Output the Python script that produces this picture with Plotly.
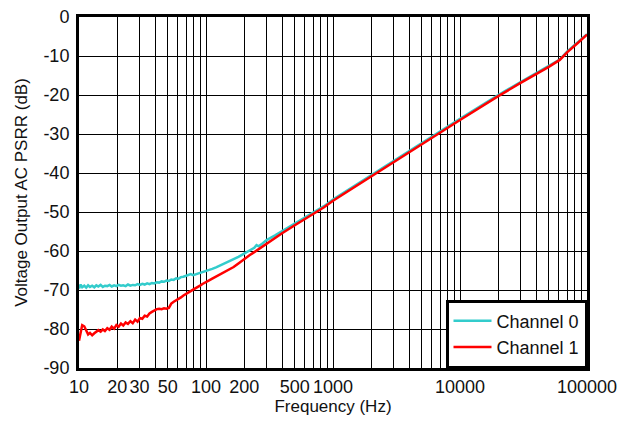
import plotly.graph_objects as go

freq = [
    10, 10.3, 10.6, 11, 11.4, 11.8, 12.2, 12.7, 13.2, 13.7,
    14.2, 14.8, 15.4, 16, 16.7, 17.4, 18.1, 18.9, 19.7, 20.5,
    21.4, 22.3, 23.3, 24.3, 25.4, 26.5, 27.7, 28.9, 30.2, 31.5,
    32.9, 34.4, 35.9, 37.5, 39.2, 41, 42.8, 44.7, 46.7, 48.8,
    51, 53.3, 55.7, 58.2, 60.8, 63.5, 66.4, 69.4, 72.5, 75.8,
    79.2, 82.8, 86.5, 90.4, 94.5, 98.8, 105, 112, 120, 130,
    140, 150, 165, 180, 200, 220, 240, 250, 260, 280,
    300, 350, 400, 500, 600, 700, 850, 1000, 1500, 2000,
    3000, 5000, 7000, 10000, 15000, 20000, 30000, 40000, 50000, 61000,
    70000, 85000, 100000,
]

channel0 = [
    -69.6, -68.6, -69.3, -68.9, -69.4, -68.8, -69.2, -68.9, -69.3, -68.8,
    -69.1, -68.7, -69.2, -68.9, -69.0, -68.7, -69.1, -68.8, -69.0, -68.7,
    -68.9, -68.8, -69.0, -68.6, -68.9, -68.7, -68.8, -68.5, -68.7, -68.4,
    -68.6, -68.3, -68.5, -68.2, -68.3, -68.0, -68.1, -67.8, -67.9, -67.6,
    -67.7, -67.3, -67.4, -67.0, -67.1, -66.7, -66.6, -66.3, -66.2, -65.9,
    -66.2, -66.0, -65.9, -65.7, -65.5, -65.3, -65.0, -64.6, -64.2, -63.7,
    -63.3, -62.8, -62.1, -61.5, -60.7, -59.9, -59.2, -58.5, -58.8, -58.0,
    -57.2, -56.0, -54.9, -53.0, -51.5, -50.2, -48.5, -46.8, -43.2, -40.6,
    -36.9, -32.3, -29.3, -26.1, -22.5, -20.0, -16.7, -14.4, -12.6, -10.9,
    -8.8, -6.5, -4.4,
]

channel1 = [
    -83.0, -80.5, -79.0, -79.3, -80.6, -81.4, -81.0, -81.6, -81.1, -80.8,
    -80.3, -80.7, -80.1, -80.5, -79.8, -80.2, -79.4, -79.9, -79.0, -79.4,
    -78.6, -79.1, -78.3, -78.7, -78.0, -78.5, -77.6, -78.1, -77.2, -77.4,
    -76.6, -76.8, -76.0, -75.6, -75.2, -74.9, -74.8, -74.9, -74.7, -74.8,
    -74.6, -73.5, -73.0, -72.7, -72.2, -71.9, -71.4, -71.1, -70.6, -70.3,
    -69.9, -69.6, -69.1, -68.8, -68.4, -68.0, -67.6, -67.1, -66.6, -66.0,
    -65.5, -64.9, -64.1, -63.2, -62.0, -61.1, -60.3, -59.9, -59.5, -58.7,
    -58.0, -56.6, -55.4, -53.4, -51.8, -50.5, -48.8, -47.1, -43.5, -40.9,
    -37.2, -32.6, -29.6, -26.4, -22.8, -20.3, -16.9, -14.6, -12.8, -11.0,
    -9.0, -6.6, -4.5,
]

x_labels = {10: "10", 20: "20", 30: "30", 50: "50", 100: "100", 200: "200",
            500: "500", 1000: "1000", 10000: "10000", 100000: "100000"}
x_grid = [m * d for d in (10, 100, 1000, 10000) for m in range(1, 10)] + [100000]
x_text = [x_labels.get(v, "") for v in x_grid]

y_ticks = [0, -10, -20, -30, -40, -50, -60, -70, -80, -90]
y_text = [str(v) for v in y_ticks]

font_family = "Liberation Sans, Arial, sans-serif"

fig = go.Figure()
fig.add_trace(go.Scatter(x=freq, y=channel0, mode="lines", name="Channel 0",
                         line=dict(color="#33CCCC", width=2.5)))
fig.add_trace(go.Scatter(x=freq, y=channel1, mode="lines", name="Channel 1",
                         line=dict(color="#FF0000", width=2.5)))

fig.update_layout(
    width=620, height=422,
    margin=dict(l=79, r=33, t=17, b=54),
    paper_bgcolor="white", plot_bgcolor="white",
    font=dict(family=font_family, size=18, color="#111111"),
    showlegend=True,
    legend=dict(x=1, y=0, xanchor="right", yanchor="bottom",
                bordercolor="black", borderwidth=2.5, bgcolor="white",
                font=dict(size=18), tracegroupgap=0, itemwidth=38),
    xaxis=dict(
        type="log", range=[1, 5], automargin=False,
        tickmode="array", tickvals=x_grid, ticktext=x_text,
        showgrid=True, gridcolor="black", gridwidth=1,
        showline=True, linecolor="black", linewidth=3, mirror=True,
        ticks="", zeroline=False, tickfont=dict(size=18),
        ticklabeloverflow="allow",
        title=dict(text="Frequency (Hz)", font=dict(size=17), standoff=2),
    ),
    yaxis=dict(
        range=[-90, 0], automargin=False,
        tickmode="array", tickvals=y_ticks, ticktext=y_text,
        showgrid=True, gridcolor="black", gridwidth=1,
        showline=True, linecolor="black", linewidth=3, mirror=True,
        ticks="", zeroline=False, tickfont=dict(size=18), ticklabelstandoff=3,
        ticklabeloverflow="allow",
        title=dict(text="Voltage Output AC PSRR (dB)", font=dict(size=17), standoff=12),
    ),
)

fig.write_html(
    "out.html",
    config={"displayModeBar": False},
    post_script="document.body.style.margin='0';document.body.style.overflow='hidden';",
)
